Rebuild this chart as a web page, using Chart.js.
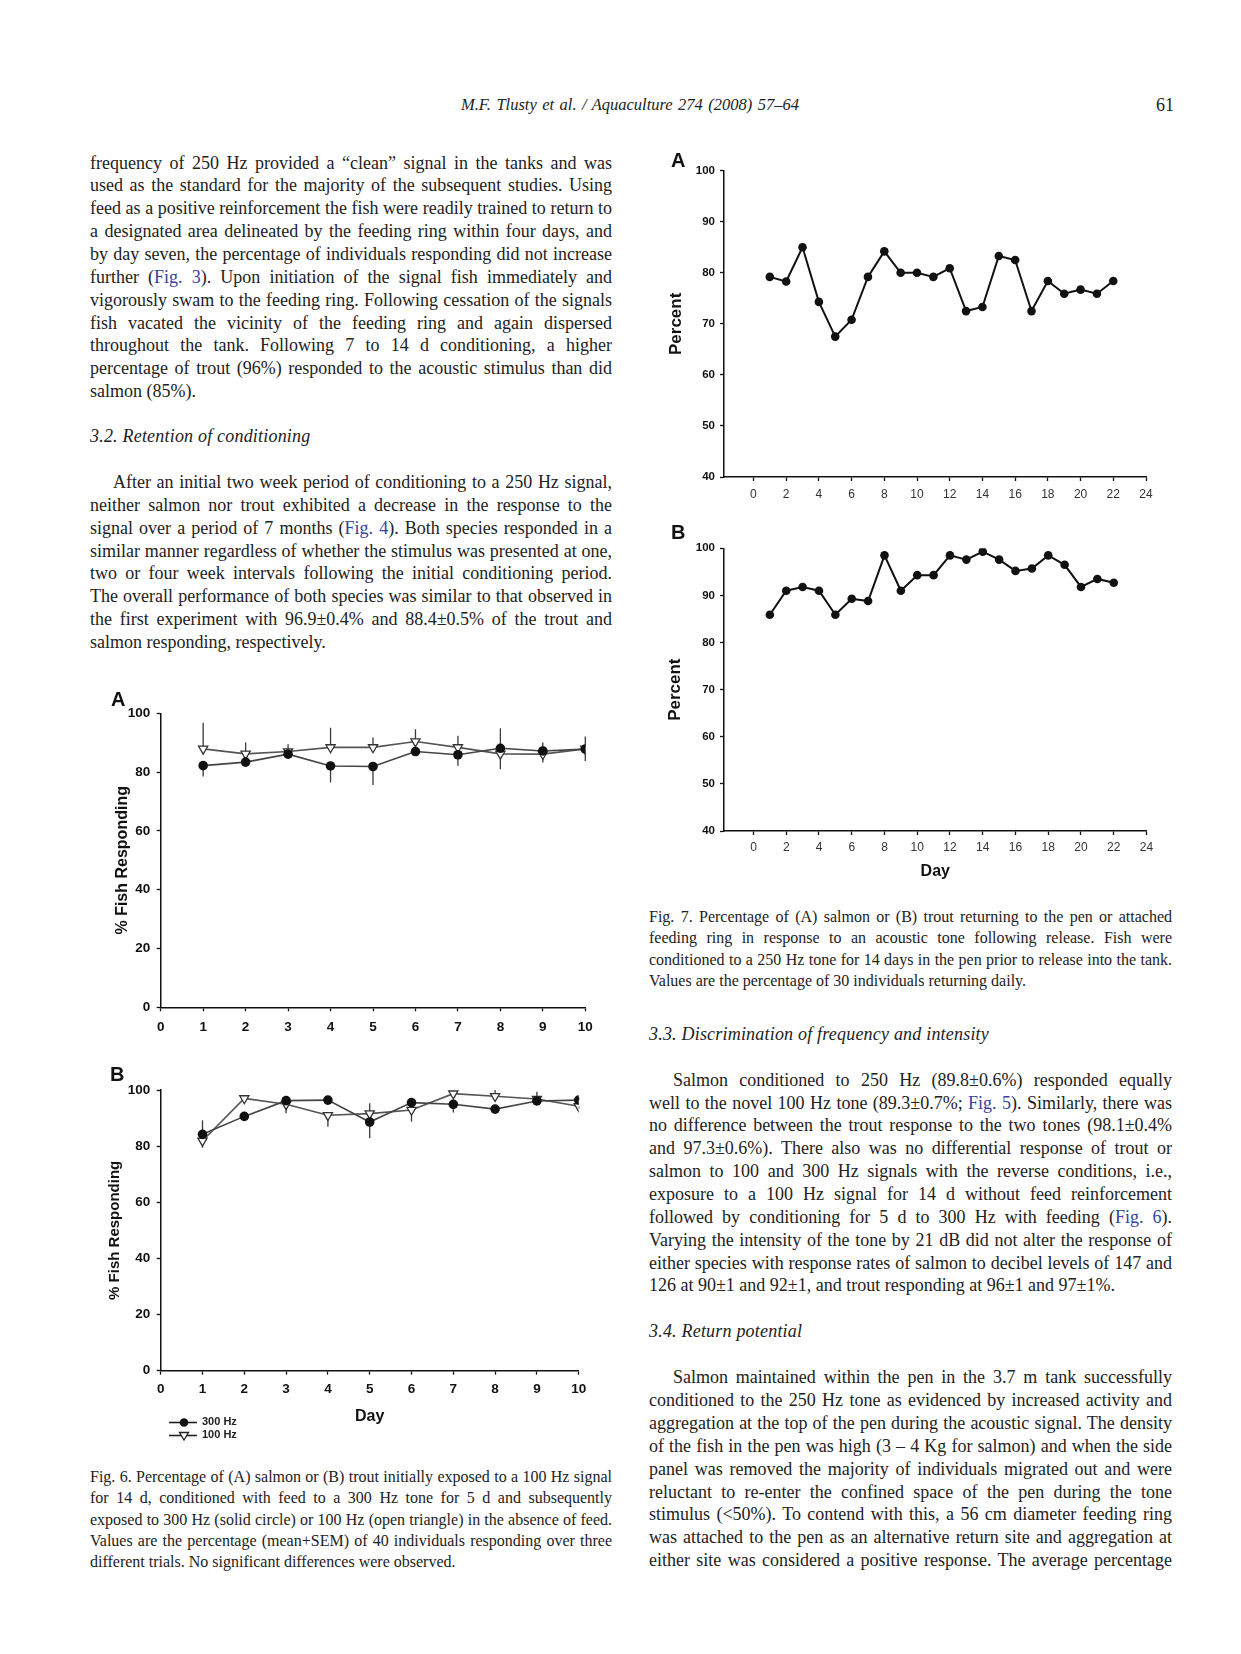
<!DOCTYPE html>
<html lang="en">
<head>
<meta charset="UTF-8">
<title>Tlusty et al. 2008 - page 61</title>
<script src="https://cdn.jsdelivr.net/npm/chart.js"></script>
<style>
    body { margin: 0; background: #fff; }
    #page { position: relative; width: 1241px; height: 1654px; overflow: hidden;
            font-family: "Liberation Serif", "Times New Roman", serif; color: #222; }
    #page > div { position: absolute; white-space: nowrap; }
    .body { font-size: 18px; line-height: 22px; }
    .head { font-size: 18px; line-height: 22px; font-style: italic; letter-spacing: 0.2px; }
    .cap  { font-size: 16px; line-height: 20px; }
    .run  { font-size: 16.5px; line-height: 20px; font-style: italic; }
    a { color: #34449c; text-decoration: none; }
    canvas { position: absolute; }
    .lab { font-family: "Liberation Sans", Arial, sans-serif; font-weight: bold; font-size: 20px; line-height: 22px; color: #111; }
    .leg { font-family: "Liberation Sans", Arial, sans-serif; font-weight: bold; font-size: 11px; line-height: 13px; color: #222; }
    .leg svg { vertical-align: middle; margin-right: 4px; }
</style>
</head>
<body>
<div id="page">
    <canvas id="fig7a" width="500" height="370" style="left:660px; top:148px"></canvas>
    <canvas id="fig7b" width="500" height="370" style="left:660px; top:520px"></canvas>
    <canvas id="fig6a" width="505" height="360" style="left:100px; top:685px"></canvas>
    <canvas id="fig6b" width="505" height="395" style="left:100px; top:1055px"></canvas>

    <div class="lab" style="left:671px; top:149px">A</div>
    <div class="lab" style="left:671px; top:521px">B</div>
    <div class="lab" style="left:111px; top:688px">A</div>
    <div class="lab" style="left:110px; top:1063px">B</div>

    <div class="leg" style="left:168px; top:1415px"><svg width="30" height="13"><line x1="1" y1="6.5" x2="29" y2="6.5" stroke="#222" stroke-width="1.6"/><circle cx="16" cy="6.5" r="4.3" fill="#111"/></svg>300 Hz</div>
    <div class="leg" style="left:168px; top:1428px"><svg width="30" height="13"><line x1="1" y1="6.5" x2="29" y2="6.5" stroke="#222" stroke-width="1.6"/><polygon points="11.5,3.5 20.5,3.5 16,11" fill="#fff" stroke="#222" stroke-width="1.3"/></svg>100 Hz</div>
</div>

<script>
    // Fig. 7 - percent returning per day (30 fish)
    const days7 = [1, 2, 3, 4, 5, 6, 7, 8, 9, 10, 11, 12, 13, 14, 15, 16, 17, 18, 19, 20, 21, 22];
    const salmonReturn = [79.2, 78.3, 85.0, 74.3, 67.5, 70.8, 79.2, 84.2, 80.0, 80.0, 79.2, 80.9, 72.5, 73.3, 83.3, 82.5, 72.5, 78.4, 75.9, 76.7, 75.9, 78.4];
    const troutReturn = [85.9, 91.0, 91.8, 91.0, 85.9, 89.3, 88.8, 98.5, 91.0, 94.3, 94.3, 98.5, 97.6, 99.3, 97.6, 95.2, 95.7, 98.5, 96.5, 91.8, 93.5, 92.7];
    const dayTicks7 = [0, 2, 4, 6, 8, 10, 12, 14, 16, 18, 20, 22, 24];
    const pctTicks7 = [40, 50, 60, 70, 80, 90, 100];

    // Fig. 6 - % fish responding, mean and SEM
    const days6 = [1, 2, 3, 4, 5, 6, 7, 8, 9, 10];
    const salmon300 = [82.2, 83.4, 86.1, 82.1, 81.9, 87.0, 85.9, 88.1, 87.2, 87.8];
    const salmon300Sem = [3.7, 1.5, 1.4, 5.6, 6.3, 1.0, 3.7, 6.8, 2.9, 4.0];
    const salmon100 = [87.9, 86.2, 87.0, 88.4, 88.4, 90.4, 88.4, 86.2, 86.1, 87.9];
    const salmon100Sem = [8.9, 3.9, 2.5, 6.7, 3.4, 4.2, 4.0, 5.2, 2.8, 4.2];
    const trout300 = [84.2, 90.6, 96.2, 96.4, 88.6, 95.5, 94.9, 93.2, 96.1, 96.4];
    const trout300Sem = [5.0, 1.5, 1.0, 1.0, 5.8, 1.0, 2.9, 1.0, 1.0, 1.0];
    const trout100 = [81.9, 97.0, 94.9, 91.0, 91.6, 92.9, 98.7, 97.8, 96.8, 94.2];
    const trout100Sem = [2.5, 1.0, 3.2, 4.1, 3.7, 4.2, 1.0, 2.2, 2.6, 1.0];
    const dayTicks6 = [0, 1, 2, 3, 4, 5, 6, 7, 8, 9, 10];
    const pctTicks6 = [0, 20, 40, 60, 80, 100];

    Chart.defaults.font.family = '"Liberation Sans", Arial, sans-serif';
    Chart.defaults.color = '#111';

    // SEM bars, drawn away from the other series like the original plot
    const errorBars = {
        id: 'errorBars',
        beforeDatasetsDraw(chart) {
            const { ctx, scales: { x, y } } = chart;
            chart.data.datasets.forEach((ds, i) => {
                if (!ds.sem) return;
                const other = chart.data.datasets[1 - i];
                ctx.save();
                ctx.strokeStyle = '#3a3a3a';
                ctx.lineWidth = 1.3;
                ds.data.forEach((p, k) => {
                    const dir = p.y >= other.data[k].y ? 1 : -1;
                    const px = x.getPixelForValue(p.x);
                    ctx.beginPath();
                    ctx.moveTo(px, y.getPixelForValue(p.y));
                    ctx.lineTo(px, y.getPixelForValue(p.y + dir * ds.sem[k]));
                    ctx.stroke();
                });
                ctx.restore();
            });
        }
    };

    function axis(a, which, size) {
        return {
            type: 'linear', min: a.min, max: a.max,
            afterBuildTicks: s => { s.ticks = a.ticks.map(v => ({ value: v })); },
            afterFit: s => { if (which === 'x') s.height = size; else s.width = size; },
            border: { display: true, color: '#111', width: 1.5 },
            grid: { drawOnChartArea: false, drawTicks: true, tickLength: 4, tickWidth: 1.3, tickColor: '#111' },
            ticks: { autoSkip: false, maxRotation: 0, padding: a.pad, color: a.color || '#111',
                     font: { size: a.size, weight: a.weight || 'bold' } },
            title: a.title
                ? { display: true, text: a.title, color: '#111', font: { size: a.tsize, weight: 'bold' }, padding: a.tpad }
                : { display: false }
        };
    }

    function panel(id, g, xs, ys, datasets) {
        return new Chart(document.getElementById(id), {
            type: 'line',
            data: { datasets },
            options: {
                responsive: false,
                animation: false,
                layout: { padding: { left: 0, top: g.top, right: g.w - g.right, bottom: 0 } },
                plugins: { legend: { display: false }, tooltip: { enabled: false } },
                scales: { x: axis(xs, 'x', g.h - g.bottom), y: axis(ys, 'y', g.left) }
            },
            plugins: [errorBars]
        });
    }

    const pts = (xs, ys) => xs.map((d, i) => ({ x: d, y: ys[i] }));

    function dailyLine(values) {
        return { data: pts(days7, values), borderColor: '#111', borderWidth: 2, tension: 0,
                 pointRadius: 4.3, pointBackgroundColor: '#111', pointBorderWidth: 0 };
    }
    function hz300(values, sem) {
        return { data: pts(days6, values), sem, borderColor: '#444', borderWidth: 1.6, tension: 0,
                 pointRadius: 4.8, pointBackgroundColor: '#111', pointBorderWidth: 0 };
    }
    function hz100(values, sem) {
        return { data: pts(days6, values), sem, borderColor: '#555', borderWidth: 1.6, tension: 0,
                 pointStyle: 'triangle', rotation: 180, pointRadius: 5.3,
                 pointBackgroundColor: '#fff', pointBorderColor: '#333', pointBorderWidth: 1.3 };
    }

    const x7 = { min: -1.8, max: 24, ticks: dayTicks7, pad: 6, size: 12, weight: 'normal', color: '#333' };

    panel('fig7a', { w: 500, h: 370, left: 64, top: 22.7, right: 486, bottom: 329 },
        x7,
        { min: 40, max: 100, ticks: pctTicks7, pad: 5, size: 11.5, title: 'Percent', tsize: 17, tpad: { top: 5.8, bottom: 0 } },
        [dailyLine(salmonReturn)]);

    panel('fig7b', { w: 500, h: 370, left: 64, top: 28.3, right: 486.5, bottom: 311 },
        Object.assign({}, x7, { pad: 5, title: 'Day', tsize: 16, tpad: { top: 0, bottom: 8.4 } }),
        { min: 40, max: 100, ticks: pctTicks7, pad: 5, size: 11.5, title: 'Percent', tsize: 17, tpad: { top: 4.8, bottom: 0 } },
        [dailyLine(troutReturn)]);

    panel('fig6a', { w: 505, h: 360, left: 60.7, top: 28.3, right: 485.3, bottom: 322.3 },
        { min: 0, max: 10, ticks: dayTicks6, pad: 7.5, size: 13.5 },
        { min: 0, max: 100, ticks: pctTicks6, pad: 6.5, size: 13.5, title: '% Fish Responding', tsize: 16, tpad: { top: 13.4, bottom: 0 } },
        [hz300(salmon300, salmon300Sem), hz100(salmon100, salmon100Sem)]);

    panel('fig6b', { w: 505, h: 395, left: 60.7, top: 35, right: 478.7, bottom: 315.7 },
        { min: 0, max: 10, ticks: dayTicks6, pad: 6.5, size: 13.5, title: 'Day', tsize: 16, tpad: { top: 0, bottom: 23.4 } },
        { min: 0, max: 100, ticks: pctTicks6, pad: 6.5, size: 13.5, title: '% Fish Responding', tsize: 15, tpad: { top: 6, bottom: 0 } },
        [hz300(trout300, trout300Sem), hz100(trout100, trout100Sem)]);

    // ---- page text, one div per printed line ----
    const page = document.getElementById('page');

    function line(x, yc, w, html, cls, off, justify) {
        const d = document.createElement('div');
        d.className = cls;
        d.innerHTML = html;
        d.style.left = x + 'px';
        d.style.top = (yc - off) + 'px';
        page.appendChild(d);
        if (justify) {
            const nat = d.getBoundingClientRect().width;
            const n = (d.textContent.match(/ /g) || []).length;
            if (n) d.style.wordSpacing = ((w - nat) / n) + 'px';
        }
    }

    function block(x, y0, step, w, lines, o) {
        o = o || {};
        lines.forEach((t, i) => {
            const last = i === lines.length - 1 && !o.runOn;
            const ind = (i === 0 && o.indent) ? o.indent : 0;
            line(x + ind, y0 + i * step, w - ind, t, o.cls || 'body', o.off || 12, !last);
        });
    }

    const L = 90, R = 649, W = 522;

    line(461, 105.5, 338, 'M.F. Tlusty et al. / Aquaculture 274 (2008) 57–64', 'run', 11, true);
    line(1156, 105.5, 16, '61', 'body', 12, false);

    block(L, 163.6, 22.85, W, [
        'frequency of 250 Hz provided a “clean” signal in the tanks and was',
        'used as the standard for the majority of the subsequent studies. Using',
        'feed as a positive reinforcement the fish were readily trained to return to',
        'a designated area delineated by the feeding ring within four days, and',
        'by day seven, the percentage of individuals responding did not increase',
        'further (<a>Fig. 3</a>). Upon initiation of the signal fish immediately and',
        'vigorously swam to the feeding ring. Following cessation of the signals',
        'fish vacated the vicinity of the feeding ring and again dispersed',
        'throughout the tank. Following 7 to 14 d conditioning, a higher',
        'percentage of trout (96%) responded to the acoustic stimulus than did',
        'salmon (85%).'
    ]);

    line(L, 437, W, '3.2. Retention of conditioning', 'head', 12, false);

    block(L, 483, 22.85, W, [
        'After an initial two week period of conditioning to a 250 Hz signal,',
        'neither salmon nor trout exhibited a decrease in the response to the',
        'signal over a period of 7 months (<a>Fig. 4</a>). Both species responded in a',
        'similar manner regardless of whether the stimulus was presented at one,',
        'two or four week intervals following the initial conditioning period.',
        'The overall performance of both species was similar to that observed in',
        'the first experiment with 96.9±0.4% and 88.4±0.5% of the trout and',
        'salmon responding, respectively.'
    ], { indent: 23 });

    block(L, 1478, 21.3, W, [
        'Fig. 6. Percentage of (A) salmon or (B) trout initially exposed to a 100 Hz signal',
        'for 14 d, conditioned with feed to a 300 Hz tone for 5 d and subsequently',
        'exposed to 300 Hz (solid circle) or 100 Hz (open triangle) in the absence of feed.',
        'Values are the percentage (mean+SEM) of 40 individuals responding over three',
        'different trials. No significant differences were observed.'
    ], { cls: 'cap', off: 11 });

    block(R, 918, 21.3, 523, [
        'Fig. 7. Percentage of (A) salmon or (B) trout returning to the pen or attached',
        'feeding ring in response to an acoustic tone following release. Fish were',
        'conditioned to a 250 Hz tone for 14 days in the pen prior to release into the tank.',
        'Values are the percentage of 30 individuals returning daily.'
    ], { cls: 'cap', off: 11 });

    line(R, 1035, 523, '3.3. Discrimination of frequency and intensity', 'head', 12, false);

    block(R, 1080.7, 22.85, 523, [
        'Salmon conditioned to 250 Hz (89.8±0.6%) responded equally',
        'well to the novel 100 Hz tone (89.3±0.7%; <a>Fig. 5</a>). Similarly, there was',
        'no difference between the trout response to the two tones (98.1±0.4%',
        'and 97.3±0.6%). There also was no differential response of trout or',
        'salmon to 100 and 300 Hz signals with the reverse conditions, i.e.,',
        'exposure to a 100 Hz signal for 14 d without feed reinforcement',
        'followed by conditioning for 5 d to 300 Hz with feeding (<a>Fig. 6</a>).',
        'Varying the intensity of the tone by 21 dB did not alter the response of',
        'either species with response rates of salmon to decibel levels of 147 and',
        '126 at 90±1 and 92±1, and trout responding at 96±1 and 97±1%.'
    ], { indent: 24 });

    line(R, 1332, 523, '3.4. Return potential', 'head', 12, false);

    block(R, 1378.3, 22.85, 523, [
        'Salmon maintained within the pen in the 3.7 m tank successfully',
        'conditioned to the 250 Hz tone as evidenced by increased activity and',
        'aggregation at the top of the pen during the acoustic signal. The density',
        'of the fish in the pen was high (3 – 4 Kg for salmon) and when the side',
        'panel was removed the majority of individuals migrated out and were',
        'reluctant to re-enter the confined space of the pen during the tone',
        'stimulus (&lt;50%). To contend with this, a 56 cm diameter feeding ring',
        'was attached to the pen as an alternative return site and aggregation at',
        'either site was considered a positive response. The average percentage'
    ], { indent: 24, runOn: true });
</script>
</body>
</html>
